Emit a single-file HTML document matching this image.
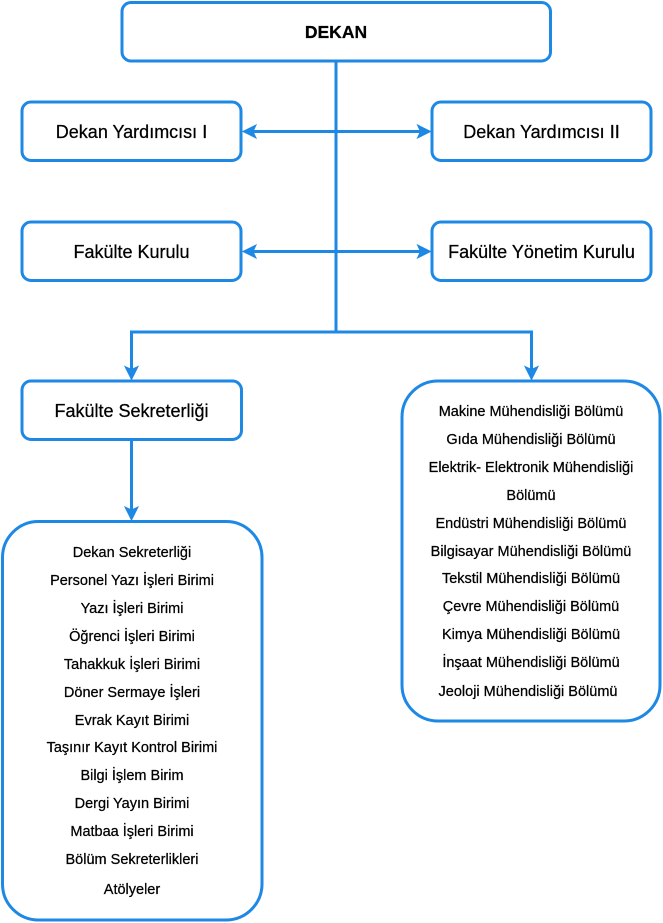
<!DOCTYPE html>
<html>
<head>
<meta charset="utf-8">
<style>
  html, body { margin:0; padding:0; background:#ffffff; }
  body { width:663px; height:923px; overflow:hidden; }
  svg { display:block; }
  text { font-family: "Liberation Sans", Arial, sans-serif; fill:#000; stroke:#000; stroke-width:0.25; }
  .lbl { font-size:18px; }
  .lst { font-size:14.5px; }
</style>
</head>
<body>
<svg width="663" height="923" viewBox="0 0 663 923" xmlns="http://www.w3.org/2000/svg">
  <g fill="none" stroke="#1E88E5" stroke-width="3">
    <!-- boxes -->
    <rect x="122" y="2.5" width="428.5" height="58.5" rx="9" ry="9"/>
    <rect x="22" y="102" width="219" height="58.5" rx="9" ry="9"/>
    <rect x="432" y="102" width="219" height="58.5" rx="9" ry="9"/>
    <rect x="22" y="222" width="219" height="58.5" rx="9" ry="9"/>
    <rect x="432" y="222" width="219" height="58.5" rx="9" ry="9"/>
    <rect x="22" y="381" width="219.5" height="58.5" rx="9" ry="9"/>
    <rect x="2.5" y="521.5" width="259.5" height="398.5" rx="36" ry="36"/>
    <rect x="402" y="381" width="258" height="340" rx="36" ry="36"/>

    <!-- connectors -->
    <line x1="336" y1="61" x2="336" y2="332"/>
    <line x1="252" y1="131.5" x2="421" y2="131.5"/>
    <line x1="252" y1="251.5" x2="421" y2="251.5"/>
    <polyline points="131.5,370 131.5,332 531.5,332 531.5,370"/>
    <line x1="131.5" y1="440" x2="131.5" y2="510"/>
  </g>

  <!-- arrowheads -->
  <g fill="#1E88E5" stroke="#1E88E5" stroke-width="1" stroke-linejoin="miter">
    <path d="M243,131.5 L256,125 L253,131.5 L256,138 Z"/>
    <path d="M430.5,131.5 L417.5,125 L420.5,131.5 L417.5,138 Z"/>
    <path d="M243,251.5 L256,245 L253,251.5 L256,258 Z"/>
    <path d="M430.5,251.5 L417.5,245 L420.5,251.5 L417.5,258 Z"/>
    <path d="M131.5,379.5 L125,366.5 L131.5,369.5 L138,366.5 Z"/>
    <path d="M531.5,379.5 L525,366.5 L531.5,369.5 L538,366.5 Z"/>
    <path d="M131.5,520 L125,507 L131.5,510 L138,507 Z"/>
  </g>

  <!-- labels -->
  <text x="336" y="38" text-anchor="middle" font-size="17.5" font-weight="bold">DEKAN</text>
  <text class="lbl" x="131.5" y="138" text-anchor="middle">Dekan Yardımcısı I</text>
  <text class="lbl" x="541.5" y="138" text-anchor="middle">Dekan Yardımcısı II</text>
  <text class="lbl" x="131.5" y="258" text-anchor="middle">Fakülte Kurulu</text>
  <text class="lbl" x="541.5" y="258" text-anchor="middle">Fakülte Yönetim Kurulu</text>
  <text class="lbl" x="131.5" y="417" text-anchor="middle">Fakülte Sekreterliği</text>

  <!-- left list -->
  <g text-anchor="middle">
    <text class="lst" x="132" y="557">Dekan Sekreterliği</text>
    <text class="lst" x="132" y="585">Personel Yazı İşleri Birimi</text>
    <text class="lst" x="132" y="613">Yazı İşleri Birimi</text>
    <text class="lst" x="132" y="641">Öğrenci İşleri Birimi</text>
    <text class="lst" x="132" y="669">Tahakkuk İşleri Birimi</text>
    <text class="lst" x="132" y="697">Döner Sermaye İşleri</text>
    <text class="lst" x="132" y="725">Evrak Kayıt Birimi</text>
    <text class="lst" x="132" y="752">Taşınır Kayıt Kontrol Birimi</text>
    <text class="lst" x="132" y="780">Bilgi İşlem Birim</text>
    <text class="lst" x="132" y="808">Dergi Yayın Birimi</text>
    <text class="lst" x="132" y="836">Matbaa İşleri Birimi</text>
    <text class="lst" x="132" y="864">Bölüm Sekreterlikleri</text>
    <text class="lst" x="132" y="894">Atölyeler</text>
  </g>

  <!-- right list -->
  <g text-anchor="middle">
    <text class="lst" x="531" y="416">Makine Mühendisliği Bölümü</text>
    <text class="lst" x="531" y="444">Gıda Mühendisliği Bölümü</text>
    <text class="lst" x="531" y="472">Elektrik- Elektronik Mühendisliği</text>
    <text class="lst" x="531" y="500">Bölümü</text>
    <text class="lst" x="531" y="528">Endüstri Mühendisliği Bölümü</text>
    <text class="lst" x="531" y="556">Bilgisayar Mühendisliği Bölümü</text>
    <text class="lst" x="531" y="583">Tekstil Mühendisliği Bölümü</text>
    <text class="lst" x="531" y="611">Çevre Mühendisliği Bölümü</text>
    <text class="lst" x="531" y="639">Kimya Mühendisliği Bölümü</text>
    <text class="lst" x="531" y="667">İnşaat Mühendisliği Bölümü</text>
    <text class="lst" x="528" y="696">Jeoloji Mühendisliği Bölümü</text>
  </g>
</svg>
</body>
</html>
